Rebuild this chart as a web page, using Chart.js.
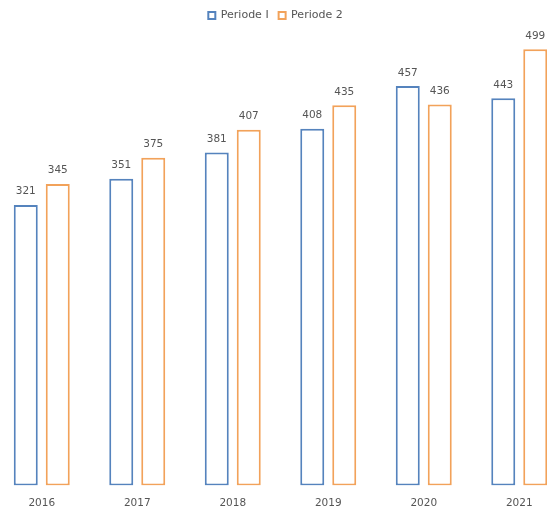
<!DOCTYPE html>
<html>
<head>
<meta charset="utf-8">
<script src="https://cdn.jsdelivr.net/npm/chart.js@4.4.1/dist/chart.umd.min.js"></script>
<style>
html,body{margin:0;padding:0;background:#fff;overflow:hidden;width:547px;height:512px;}
#wrap{position:absolute;left:-6px;top:0;width:573px;height:525px;}
</style>
</head>
<body>
<div id="wrap"><canvas id="c" width="573" height="525"></canvas></div>
<script>
const categories = ['2016','2017','2018','2019','2020','2021'];
const periode1 = [321, 351, 381, 408, 457, 443];
const periode2 = [345, 375, 407, 435, 436, 499];
const seriesNames = ['Periode I', 'Periode 2'];

const FONT = '"DejaVu Sans", Lato, sans-serif';
const BLUE = '#5583bd';
const ORANGE = '#f2a25a';

const valueLabels = {
  id: 'valueLabels',
  afterDatasetsDraw(chart) {
    const ctx = chart.ctx;
    ctx.save();
    ctx.font = '10.5px ' + FONT;
    ctx.fillStyle = '#555';
    ctx.textAlign = 'center';
    ctx.textBaseline = 'bottom';
    chart.data.datasets.forEach((ds, i) => {
      chart.getDatasetMeta(i).data.forEach((bar, j) => {
        ctx.fillText(String(ds.data[j]), bar.x, bar.y - 8);
      });
    });
    ctx.restore();
  }
};

const legendShift = {
  id: 'legendShift',
  afterLayout(chart) {
    if (chart.legend) { chart.legend.left -= 5; chart.legend.right -= 5; }
  }
};

new Chart(document.getElementById('c'), {
  type: 'bar',
  data: {
    labels: categories,
    datasets: [
      { label: seriesNames[0], data: periode1, backgroundColor: '#ffffff', borderColor: BLUE, borderWidth: 2, borderSkipped: false },
      { label: seriesNames[1], data: periode2, backgroundColor: '#ffffff', borderColor: ORANGE, borderWidth: 2, borderSkipped: false }
    ]
  },
  options: {
    responsive: false,
    animation: false,
    layout: { padding: { top: 0, bottom: 3, left: 0, right: 0 } },
    datasets: { bar: { categoryPercentage: 0.67, barPercentage: 0.75 } },
    plugins: {
      legend: {
        position: 'top',
        labels: {
          boxWidth: 7, boxHeight: 7, padding: 10,
          font: { family: FONT, size: 11 }, color: '#555'
        }
      },
      tooltip: { enabled: false }
    },
    scales: {
      x: {
        grid: { display: false, drawTicks: false },
        border: { display: false },
        ticks: { padding: 12, font: { family: FONT, size: 10.5 }, color: '#555' }
      },
      y: {
        display: false,
        min: 0,
        max: 520
      }
    }
  },
  plugins: [valueLabels, legendShift]
});
</script>
</body>
</html>
